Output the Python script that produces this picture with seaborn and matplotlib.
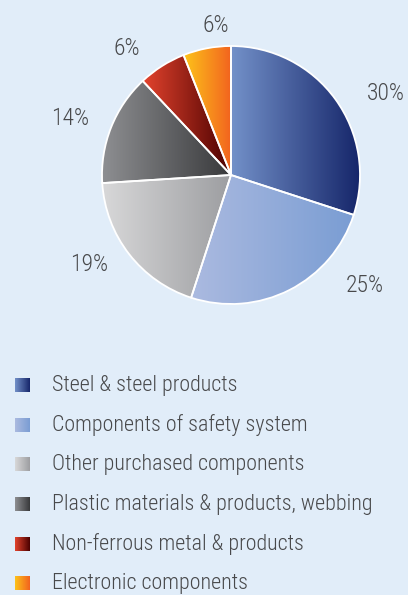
import numpy as np
import seaborn as sns
from matplotlib import pyplot as plt


CATEGORIES = [
    "Steel & steel products",
    "Components of safety system",
    "Other purchased components",
    "Plastic materials & products, webbing",
    "Non-ferrous metal & products",
    "Electronic components",
]
SHARES = [30, 25, 19, 14, 6, 6]
LABELS = ["30%", "25%", "19%", "14%", "6%", "6%"]

# light (left) -> dark (right) gradient ends per slice
GRADIENTS = [
    ("#7391c9", "#16266a"),
    ("#abbae0", "#7a9dd3"),
    ("#d8d8d9", "#9d9ea1"),
    ("#8e8f92", "#38393b"),
    ("#e3432d", "#4a0000"),
    ("#fdc31a", "#f2621f"),
]

# label positions in pie-radius units (placement only)
LABEL_POS = [(1.20, 0.63), (1.04, -0.86), (-1.10, -0.69), (-1.25, 0.44), (-0.81, 0.98), (-0.12, 1.16)]

BG = "#e1edf9"
TEXT = "#48494b"
W, H = 408, 595
CX, CY, R = 231, 175, 129


def gradient(ax, cmap, x0, x1, y0, y1, clip=None, z=0.5):
    grad = np.linspace(0, 1, 256).reshape(1, -1)
    im = ax.imshow(grad, cmap=cmap, extent=(x0, x1, y0, y1), aspect="auto",
                   interpolation="bilinear", zorder=z)
    if clip is not None:
        im.set_clip_path(clip)
    return im


def main():
    sns.set_theme(style="white")
    plt.rcParams["font.family"] = ["Roboto Condensed", "DejaVu Sans"]
    plt.rcParams["font.weight"] = "light"

    fig = plt.figure(figsize=(W / 100, H / 100), dpi=100)
    fig.patch.set_facecolor(BG)

    span = 1.6
    ax = fig.add_axes([(CX - span * R) / W, (H - CY - span * R) / H,
                       2 * span * R / W, 2 * span * R / H])
    ax.set_facecolor("none")
    wedges, _ = ax.pie(SHARES, startangle=90, counterclock=False, radius=1,
                       wedgeprops=dict(edgecolor="white", linewidth=1.3))
    cmaps = [sns.blend_palette(g, as_cmap=True) for g in GRADIENTS]
    for w, cmap in zip(wedges, cmaps):
        w.set_facecolor("none")
        w.set_zorder(2)
        th = np.radians(np.linspace(w.theta1, w.theta2, 200))
        xs = np.concatenate([[0], np.cos(th)])
        ys = np.concatenate([[0], np.sin(th)])
        gradient(ax, cmap, xs.min(), xs.max(), ys.min(), ys.max(), clip=w)
    for lab, (lx, ly) in zip(LABELS, LABEL_POS):
        ax.text(lx, ly, lab, ha="center", va="center", fontsize=17, color=TEXT)
    ax.set_xlim(-span, span)
    ax.set_ylim(-span, span)
    ax.set_aspect("equal")
    ax.axis("off")

    # legend drawn in pixel coordinates
    lg = fig.add_axes([0, 0, 1, 1])
    lg.set_facecolor("none")
    row_y = 385 + 39.7 * np.arange(len(CATEGORIES))
    for y, name, cmap in zip(row_y, CATEGORIES, cmaps):
        gradient(lg, cmap, 15, 30, y + 7, y - 7)
        lg.text(52, y, name, ha="left", va="center", fontsize=15.8, color=TEXT)
    lg.set_xlim(0, W)
    lg.set_ylim(H, 0)
    lg.axis("off")

    fig.savefig("out.png", dpi=100, facecolor=BG)


if __name__ == "__main__":
    main()
